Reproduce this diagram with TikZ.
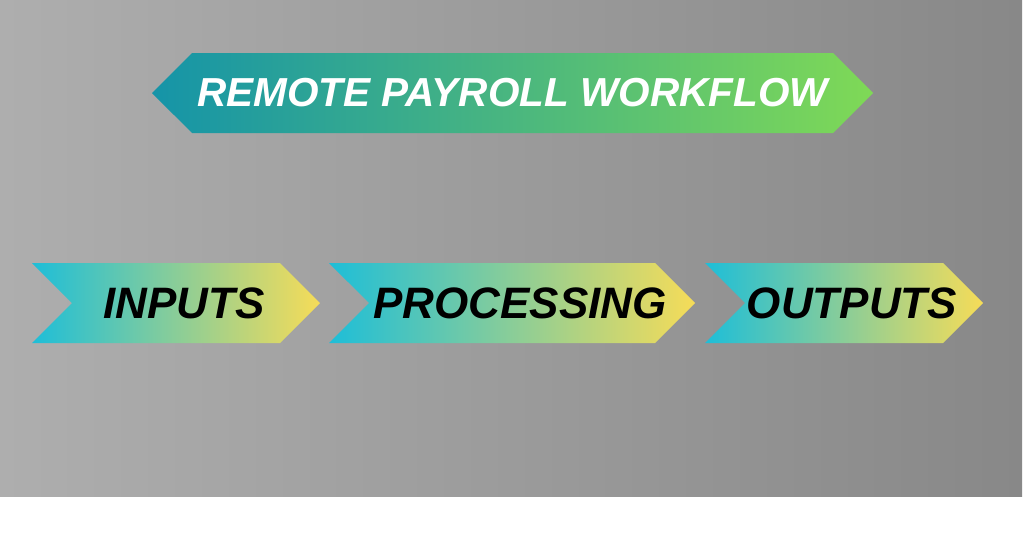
\documentclass[tikz,border=0pt]{standalone}
\usepackage{fontspec}
\setmainfont{Liberation Sans}
\usepackage{tikz}
\usetikzlibrary{shapes.symbols,positioning}
\definecolor{tealL}{RGB}{21,148,168}
\definecolor{greenR}{RGB}{127,217,86}
\definecolor{cyanL}{RGB}{30,190,216}
\definecolor{yellowR}{RGB}{246,220,88}
\definecolor{wallL}{RGB}{174,174,174}
\definecolor{wallM}{RGB}{168,168,168}
\definecolor{wallD}{RGB}{136,136,136}
\newcommand{\stagelabel}[1]{\makebox[0pt]{\hspace*{16pt}#1}}
\tikzset{
 banner/.style
  = {signal, signal to=west and east, signal pointer angle=90, inner sep=0pt,
     minimum width=721pt, minimum height=80pt, left color=tealL, right color=greenR,
     text=white, font=\fontsize{40.5}{40.5}\selectfont\bfseries\itshape},
 stage/.style
  = {signal, signal from=west, signal to=east, signal pointer angle=90, inner sep=0pt,
     minimum height=80pt, left color=cyanL, right color=yellowR,
     text=black, font=\fontsize{44}{44}\selectfont\bfseries\itshape},
}
\begin{document}
\begin{tikzpicture}[x=1pt,y=-1pt]
\useasboundingbox (0,0) rectangle (1024,536);

% Wall
\shade[left color=wallL, middle color=wallM, right color=wallD] (0,0) rectangle (1022,496);

% Title
\node[banner] (title) at (512.5,93) {REMOTE PAYROLL WORKFLOW};

% Stages
\node[stage, minimum width=288pt] (inputs) at (176,303) {\stagelabel{INPUTS}};
\node[stage, minimum width=366pt] (processing) at (512,303) {\stagelabel{PROCESSING}};
\node[stage, minimum width=278pt] (outputs) at (844,303) {\stagelabel{OUTPUTS}};

\end{tikzpicture}
\end{document}
